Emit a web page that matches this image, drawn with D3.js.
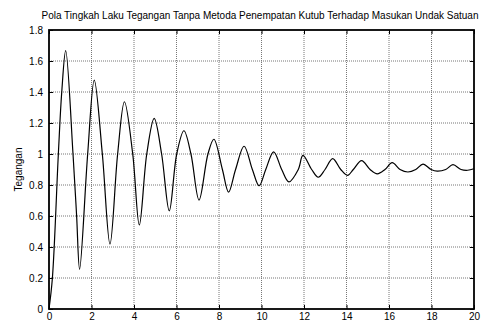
<!DOCTYPE html>
<html>
<head>
<meta charset="utf-8">
<script src="https://cdn.jsdelivr.net/npm/d3@7"></script>
<style>
    body { margin: 0; background: #fff; }
    text { font-family: "Liberation Sans", Arial, sans-serif; }
</style>
</head>
<body>
<div id="chart"></div>
<script>
// values
const titleText = "Pola Tingkah Laku Tegangan Tanpa Metoda Penempatan Kutub Terhadap Masukan Undak Satuan";
const yLabel = "Tegangan";
const xTicks = [0, 2, 4, 6, 8, 10, 12, 14, 16, 18, 20];
const yTicks = [0, 0.2, 0.4, 0.6, 0.8, 1, 1.2, 1.4, 1.6, 1.8];

const timeVals = [0, 0.16, 0.44, 0.60, 0.785, 1.13, 1.30, 1.44, 1.82, 2.13, 2.51, 2.87, 3.23, 3.55,
    3.94, 4.25, 4.60, 4.95, 5.30, 5.66, 6.01, 6.35, 6.68, 7.06, 7.48, 7.76,
    8.16, 8.45, 8.78, 9.18, 9.57, 9.89, 10.20, 10.57, 10.95, 11.29, 11.73, 11.95,
    12.36, 12.67, 12.99, 13.35, 13.73, 14.05, 14.32, 14.71, 15.11, 15.45, 15.81, 16.15,
    16.52, 16.89, 17.26, 17.60, 17.98, 18.27, 18.67, 19.01, 19.39, 19.70, 20];
const voltVals = [0, 0.2, 1.0, 1.4, 1.667, 1.0, 0.6, 0.256, 1.0, 1.477, 1.0, 0.419, 1.0, 1.337,
    1.0, 0.542, 1.0, 1.230, 1.0, 0.633, 1.0, 1.150, 1.0, 0.703, 1.0, 1.095,
    0.9, 0.754, 0.9, 1.050, 0.9, 0.795, 0.9, 1.014, 0.9, 0.820, 0.9, 0.991,
    0.9, 0.850, 0.9, 0.970, 0.9, 0.862, 0.9, 0.957, 0.9, 0.872, 0.9, 0.944,
    0.9, 0.884, 0.9, 0.935, 0.9, 0.889, 0.9, 0.931, 0.9, 0.895, 0.905];

const data = timeVals.map((t, i) => ({ t: t, v: voltVals[i] }));

const W = 496, H = 322;
const margin = { top: 30, right: 22, bottom: 13, left: 49 };
const width = W - margin.left - margin.right;
const height = H - margin.top - margin.bottom;

const svg = d3.select("#chart").append("svg")
    .attr("width", W)
    .attr("height", H);

const g = svg.append("g")
    .attr("transform", "translate(" + margin.left + "," + margin.top + ")");

const x = d3.scaleLinear().domain([0, 20]).range([0, width]);
const y = d3.scaleLinear().domain([0, 1.8]).range([height, 0]);

// dotted grid
g.append("g").selectAll("line.vgrid")
    .data(xTicks.slice(1, -1))
    .enter().append("line")
    .attr("x1", d => x(d)).attr("x2", d => x(d))
    .attr("y1", 0).attr("y2", height)
    .attr("stroke", "#777").attr("stroke-width", 1)
    .attr("stroke-dasharray", "1,1");

g.append("g").selectAll("line.hgrid")
    .data(yTicks.slice(1, -1))
    .enter().append("line")
    .attr("x1", 0).attr("x2", width)
    .attr("y1", d => y(d)).attr("y2", d => y(d))
    .attr("stroke", "#777").attr("stroke-width", 1)
    .attr("stroke-dasharray", "1,1");

// axes with inward ticks
const xAxis = d3.axisBottom(x).tickValues(xTicks).tickSizeInner(-4).tickSizeOuter(0).tickPadding(4).tickFormat(d3.format("d"));
const yAxis = d3.axisLeft(y).tickValues(yTicks).tickSizeInner(-4).tickSizeOuter(0).tickPadding(6).tickFormat(d => d);
const xTop = d3.axisTop(x).tickValues(xTicks).tickSizeInner(-4).tickSizeOuter(0).tickFormat("");
const yRight = d3.axisRight(y).tickValues(yTicks).tickSizeInner(-4).tickSizeOuter(0).tickFormat("");

function styleAxis(sel) {
    sel.select(".domain").remove();
    sel.selectAll(".tick line").attr("stroke", "#000");
    sel.selectAll("text").attr("fill", "#000").style("font-size", "10px");
}

g.append("g").attr("transform", "translate(0," + height + ")").call(xAxis).call(styleAxis);
g.append("g").call(yAxis).call(styleAxis);
g.append("g").call(xTop).call(styleAxis);
g.append("g").attr("transform", "translate(" + width + ",0)").call(yRight).call(styleAxis);

// frame
g.append("rect")
    .attr("x", 0).attr("y", 0)
    .attr("width", width).attr("height", height)
    .attr("fill", "none").attr("stroke", "#000").attr("stroke-width", 1.8);

// response curve
const line = d3.line()
    .curve(d3.curveCatmullRom.alpha(0.5))
    .x(d => x(d.t))
    .y(d => y(d.v));

g.append("path")
    .datum(data)
    .attr("d", line)
    .attr("fill", "none")
    .attr("stroke", "#000")
    .attr("stroke-width", 1.2);

// title and label
svg.append("text")
    .attr("x", 260)
    .attr("y", 19)
    .attr("text-anchor", "middle")
    .style("font-size", "10px")
    .text(titleText);

svg.append("text")
    .attr("transform", "translate(22," + (margin.top + height / 2) + ") rotate(-90)")
    .attr("text-anchor", "middle")
    .style("font-size", "10px")
    .text(yLabel);
</script>
</body>
</html>
